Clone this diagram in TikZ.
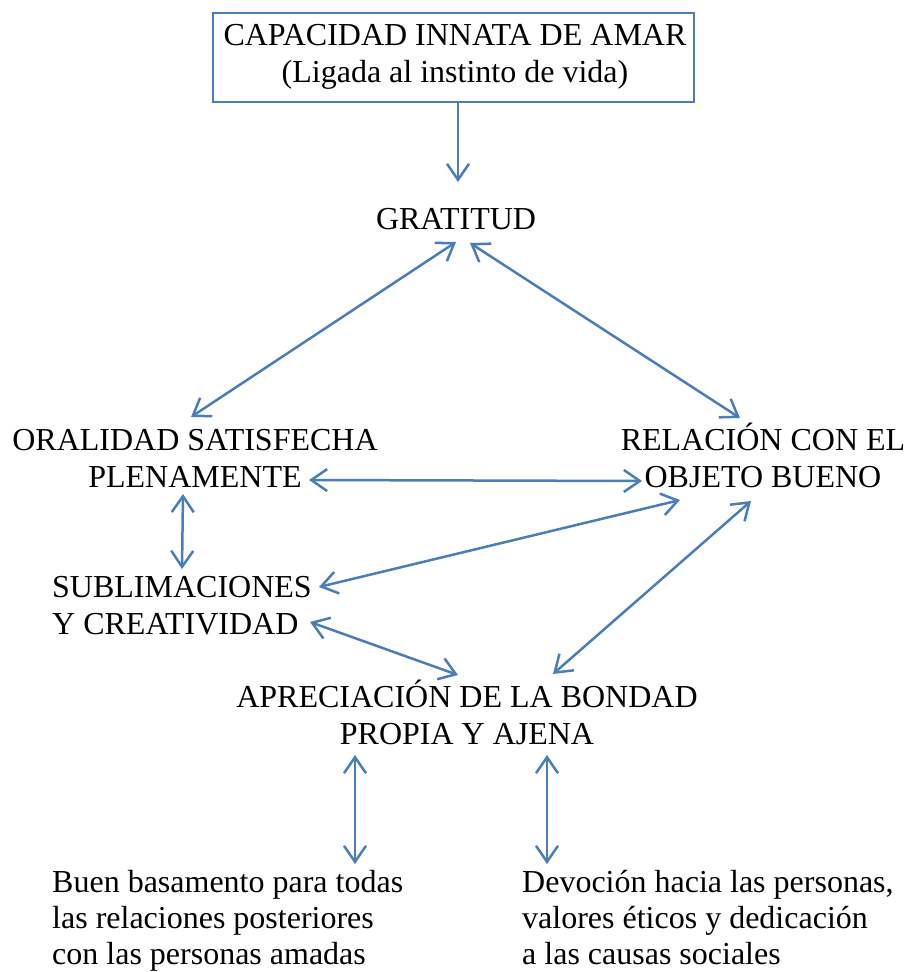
\documentclass[tikz,border=0pt]{standalone}
\usepackage{fontspec}
\setmainfont{Liberation Serif}
\usetikzlibrary{arrows.meta}
\definecolor{lineblue}{RGB}{74,126,187}
\newcommand{\mkctab}[1]{\begin{tabular}[t]{@{}c@{}}#1\end{tabular}}
\newcommand{\mkltab}[1]{\begin{tabular}[t]{@{}l@{}}#1\end{tabular}}
\tikzset{
  lbl/.style={inner sep=0pt, font=\fontsize{32}{37}\selectfont},
  lblsmall/.style={inner sep=0pt, font=\fontsize{32}{36}\selectfont},
  barb/.tip={Straight Barb[length=16pt,width=22pt]},
  conn/.style={draw=lineblue, line width=2.5pt, barb-barb},
  oneway/.style={draw=lineblue, line width=2.5pt, -barb},
  framebox/.style={draw=lineblue, line width=2.5pt, inner sep=0pt},
}
\begin{document}
\begin{tikzpicture}[x=1pt,y=-1pt]
\useasboundingbox (0,0) rectangle (905,972);

% frame
\node[framebox, minimum width=481pt, minimum height=89pt] (frame) at (453.5,57.5) {};

% labels
\node[lbl, anchor=base] (cap) at (455,45) {\mkctab{CAPACIDAD INNATA DE AMAR\\(Ligada al instinto de vida)}};
\node[lbl, anchor=base] (grat) at (456,229) {GRATITUD};
\node[lbl, anchor=base] (oral) at (195,450) {\mkctab{ORALIDAD SATISFECHA\\PLENAMENTE}};
\node[lbl, anchor=base] (rel) at (763,450) {\mkctab{RELACIÓN CON EL\\OBJETO BUENO}};
\node[lbl, anchor=base west] (subl) at (52,597) {\mkltab{SUBLIMACIONES\\Y CREATIVIDAD}};
\node[lbl, anchor=base] (aprec) at (467,707) {\mkctab{APRECIACIÓN DE LA BONDAD\\PROPIA Y AJENA}};
\node[lblsmall, anchor=base west] (buen) at (52,892) {\mkltab{Buen basamento para todas\\las relaciones posteriores\\con las personas amadas}};
\node[lblsmall, anchor=base west] (devo) at (522,892) {\mkltab{Devoción hacia las personas,\\valores éticos y dedicación\\a las causas sociales}};

% connector end points
\coordinate (frameout) at (458,102);
\coordinate (gratin) at (458,182);
\coordinate (gratl) at (456,242);
\coordinate (gratr) at (470,243);
\coordinate (oralt) at (191,417);
\coordinate (relt) at (740,418);
\coordinate (oralr) at (309,480);
\coordinate (rell) at (642,481);
\coordinate (oralb) at (183,494);
\coordinate (sublt) at (182,569);
\coordinate (relbl) at (680,500);
\coordinate (sublr) at (319,587);
\coordinate (relbr) at (751,501);
\coordinate (aprectr) at (553,674);
\coordinate (sublbr) at (310,622);
\coordinate (aprectl) at (458,675);
\coordinate (aprecbl) at (355,755);
\coordinate (buent) at (355,864);
\coordinate (aprecbr) at (547,755);
\coordinate (devot) at (547,864);

% connectors
\draw[oneway] (frameout) -- (gratin);
\draw[conn] (gratl) -- (oralt);
\draw[conn] (gratr) -- (relt);
\draw[conn] (oralr) -- (rell);
\draw[conn] (oralb) -- (sublt);
\draw[conn] (relbl) -- (sublr);
\draw[conn] (relbr) -- (aprectr);
\draw[conn] (sublbr) -- (aprectl);
\draw[conn] (aprecbl) -- (buent);
\draw[conn] (aprecbr) -- (devot);
\end{tikzpicture}
\end{document}
